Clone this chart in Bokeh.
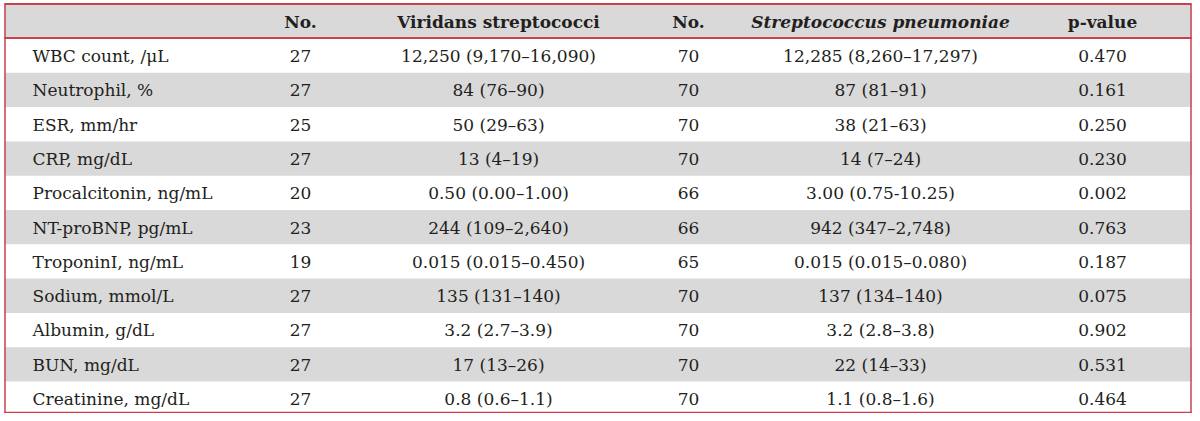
from bokeh.plotting import figure
from bokeh.models import Range1d, ColumnDataSource
from bokeh.core.properties import value
from bokeh.embed import file_html
from bokeh.resources import INLINE

# ---- data ----
headers = ["No.", "Viridans streptococci", "No.", "Streptococcus pneumoniae", "p-value"]
labels = ["WBC count, /\u03bcL", "Neutrophil, %", "ESR, mm/hr", "CRP, mg/dL",
          "Procalcitonin, ng/mL", "NT-proBNP, pg/mL", "TroponinI, ng/mL",
          "Sodium, mmol/L", "Albumin, g/dL", "BUN, mg/dL", "Creatinine, mg/dL"]
n_vs = ["27", "27", "25", "27", "20", "23", "19", "27", "27", "27", "27"]
vs_values = ["12,250 (9,170\u201316,090)", "84 (76\u201390)", "50 (29\u201363)", "13 (4\u201319)",
             "0.50 (0.00\u20131.00)", "244 (109\u20132,640)", "0.015 (0.015\u20130.450)",
             "135 (131\u2013140)", "3.2 (2.7\u20133.9)", "17 (13\u201326)", "0.8 (0.6\u20131.1)"]
n_sp = ["70", "70", "70", "70", "66", "66", "65", "70", "70", "70", "70"]
sp_values = ["12,285 (8,260\u201317,297)", "87 (81\u201391)", "38 (21\u201363)", "14 (7\u201324)",
             "3.00 (0.75-10.25)", "942 (347\u20132,748)", "0.015 (0.015\u20130.080)",
             "137 (134\u2013140)", "3.2 (2.8\u20133.8)", "22 (14\u201333)", "1.1 (0.8\u20131.6)"]
p_values = ["0.470", "0.161", "0.250", "0.230", "0.002", "0.763", "0.187",
            "0.075", "0.902", "0.531", "0.464"]

# ---- layout ----
W, H = 1192, 413
LEFT, RIGHT = 4, W - 1
HEAD_TOP, HEAD_BOT = 4, 38
ROW_H = 34.3
LABEL_X = 32
COL_X = [300, 498, 688, 880, 1102]
RED = "#c8414f"
GRAY = "#d9d9d9"
TXT = "#231f20"
FONT = "DejaVu Serif"
FS = "17px"

p = figure(width=W, height=H, x_range=Range1d(0, W), y_range=Range1d(H, 0),
           output_backend="svg", toolbar_location=None, min_border=0)
p.axis.visible = False
p.grid.visible = False
p.outline_line_color = None
p.background_fill_color = "white"

nrows = len(labels)
row_tops = [HEAD_BOT + ROW_H * i for i in range(nrows)]
bottom_y = min(HEAD_BOT + ROW_H * nrows, H - 1)

# header background
p.quad(left=[LEFT], right=[RIGHT], top=[HEAD_TOP], bottom=[HEAD_BOT],
       fill_color=GRAY, line_color=None)
# stripes
st = [t for i, t in enumerate(row_tops) if i % 2 == 1]
p.quad(left=[LEFT] * len(st), right=[RIGHT] * len(st), top=st,
       bottom=[t + ROW_H for t in st], fill_color=GRAY, line_color=None)

# borders
p.segment(x0=[LEFT, LEFT, LEFT, LEFT + 0.5, RIGHT - 0.5],
          y0=[HEAD_TOP - 0.5, HEAD_BOT - 0.5, bottom_y, HEAD_TOP - 1, HEAD_TOP - 1],
          x1=[RIGHT, RIGHT, RIGHT, LEFT + 0.5, RIGHT - 0.5],
          y1=[HEAD_TOP - 0.5, HEAD_BOT - 0.5, bottom_y, bottom_y + 0.5, bottom_y + 0.5],
          line_color=RED, line_width=[2, 2, 1.5, 1.5, 1.5])

# header text
HEAD_Y = 21
hsrc_plain = ColumnDataSource(dict(x=[COL_X[i] for i in (0, 1, 2, 4)],
                                   y=[HEAD_Y] * 4, t=[headers[i] for i in (0, 1, 2, 4)]))
p.text(x="x", y="y", text="t", source=hsrc_plain, text_font=value(FONT),
       text_font_size=FS, text_font_style="bold", text_align="center",
       text_baseline="alphabetic", text_color=TXT)
p.text(x=[COL_X[3]], y=[HEAD_Y], text=[headers[3]], text_font=value(FONT),
       text_font_size=FS, text_font_style="bold italic", text_align="center",
       text_baseline="alphabetic", text_color=TXT)

# body text
base = [t + 17.5 for t in row_tops]
p.text(x=[LABEL_X] * nrows, y=base, text=labels, text_font=value(FONT),
       text_font_size=FS, text_align="left", text_baseline="alphabetic", text_color=TXT)
for cx, col in zip(COL_X, [n_vs, vs_values, n_sp, sp_values, p_values]):
    p.text(x=[cx] * nrows, y=base, text=col, text_font=value(FONT),
           text_font_size=FS, text_align="center", text_baseline="alphabetic", text_color=TXT)

open("out.html", "w").write(file_html(p, INLINE))
